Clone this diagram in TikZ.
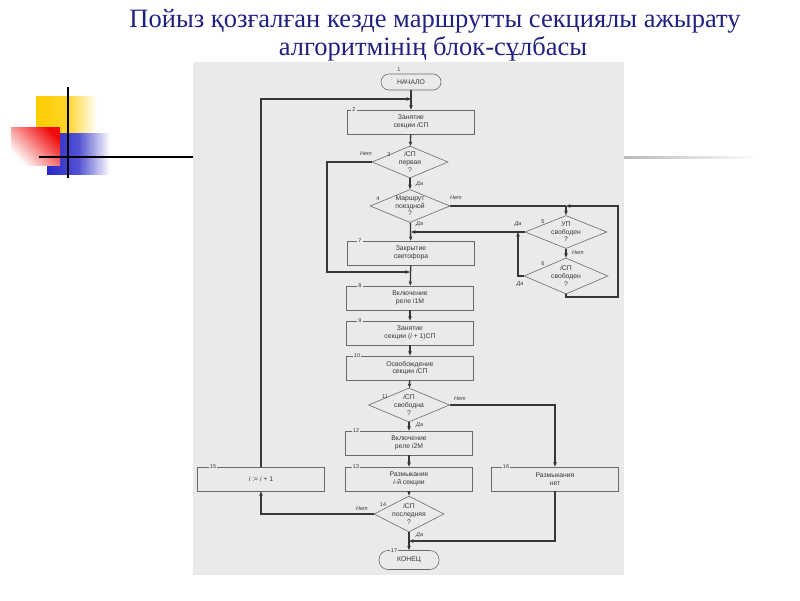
\documentclass[tikz,border=0pt]{standalone}
\usepackage{fontspec}
\setmainfont{Liberation Serif}
\newfontfamily\fcfont{Liberation Sans}
\usetikzlibrary{shapes.geometric,arrows.meta}
\definecolor{navy}{RGB}{32,32,128}
\definecolor{scanbg}{RGB}{234,234,234}
\definecolor{ink}{RGB}{55,55,55}
\definecolor{boxln}{RGB}{105,105,105}
\definecolor{deyel}{RGB}{255,204,0}
\definecolor{dered}{RGB}{240,10,10}
\definecolor{deblue}{RGB}{40,40,200}
\begin{document}
\begin{tikzpicture}[x=1pt,y=-1pt,
  txt/.style={font=\fcfont\fontsize{6.8}{7.6}\selectfont, text=ink, align=center},
  proc/.style={txt, draw=boxln, line width=0.6pt, minimum width=127pt, minimum height=24pt, inner sep=0pt},
  term/.style={txt, draw=boxln, line width=0.6pt, rounded corners=8pt, minimum width=60pt, minimum height=16pt, inner sep=0pt},
  dia/.style={draw=boxln, line width=0.6pt, diamond, inner sep=0pt},
  dtext/.style={txt, inner sep=0pt},
  num/.style={font=\fcfont\fontsize{5.5}{6}\selectfont, text=ink, fill=scanbg, inner sep=1pt},
  lab/.style={font=\fcfont\itshape\fontsize{5.5}{6}\selectfont, text=ink, inner sep=0pt},
  flow/.style={draw=ink, line width=1.3pt},
  arr/.style={flow, -{Stealth[length=4.5pt,width=3.6pt]}},
  ttl/.style={font=\fontsize{26.5}{30}\selectfont, text=navy, anchor=base, inner sep=0pt}
]
\useasboundingbox (0,0) rectangle (800,600);
% decoration
\shade[left color=deyel, right color=white, middle color=deyel!85] (36,96) rectangle (97,133);
\shade[left color=deblue, right color=white, middle color=deblue!80] (47,133) rectangle (110,174);
\shade[top color=dered, bottom color=white, shading angle=-45] (11,127) rectangle (60,165);
\draw[black, line width=1.8pt] (68,87) -- (68,178);
\draw[black, line width=1.8pt] (39,157) -- (193,157);
\shade[left color=gray!55, right color=white] (624,156) rectangle (760,158.5);
% title
\node[ttl] (title1) at (435,27) {Пойыз қозғалған кезде маршрутты секциялы ажырату};
\node[ttl] (title2) at (433,55) {алгоритмінің блок-сұлбасы};
% scan
\fill[scanbg] (193,62) rectangle (624,575);
% nodes
\node[term] (start) at (411,82) {НАЧАЛО};
\node[proc] (b2) at (411,122) {Занятие\\секции \textit{i}СП};
\node[dia, minimum width=76pt, minimum height=32pt] (d3) at (410,162) {};
\node[dtext] (t3) at (d3) {\textit{i}СП\\первая\\?};
\node[dia, minimum width=80pt, minimum height=33pt] (d4) at (410,206) {};
\node[dtext] (t4) at (d4) {Маршрут\\поездной\\?};
\node[proc] (b7) at (411,253) {Закрытие\\светофора};
\node[dia, minimum width=82pt, minimum height=33pt] (d5) at (566,232) {};
\node[dtext] (t5) at (d5) {УП\\свободен\\?};
\node[dia, minimum width=84pt, minimum height=36pt] (d6) at (566,276) {};
\node[dtext] (t6) at (d6) {\textit{i}СП\\свободен\\?};
\node[proc] (b8) at (410,298) {Включение\\реле \textit{i}1M};
\node[proc] (b9) at (410,333) {Занятие\\секции (\textit{i} + 1)СП};
\node[proc] (b10) at (410,368) {Освобождение\\секции \textit{i}СП};
\node[dia, minimum width=81pt, minimum height=34pt] (d11) at (409,405) {};
\node[dtext] (t11) at (d11) {\textit{i}СП\\свободна\\?};
\node[proc] (b12) at (409,443) {Включение\\реле \textit{i}2M};
\node[proc] (b13) at (409,479) {Размыкание\\\textit{i}-й секции};
\node[proc] (b15) at (261,479) {\textit{i} := \textit{i} + 1};
\node[proc] (b16) at (555,479) {Размыкания\\нет};
\node[dia, minimum width=70pt, minimum height=36pt] (d14) at (409,514) {};
\node[dtext] (t14) at (d14) {\textit{i}СП\\последняя\\?};
\node[term, minimum height=19pt, rounded corners=9pt] (end) at (409,560) {КОНЕЦ};
% numbers
\node[num, fill=none] (n1) at (399,70) {1};
\node[num] (n2) at (354,110) {2};
\node[num, fill=none] (n3) at (389,155) {3};
\node[num, fill=none] (n4) at (378,199) {4};
\node[num, fill=none] (n5) at (543,222) {5};
\node[num, fill=none] (n6) at (543,264) {6};
\node[num] (n7) at (360,241) {7};
\node[num] (n8) at (360,286) {8};
\node[num] (n9) at (360,321) {9};
\node[num] (n10) at (357,356) {10};
\node[num, fill=none] (n11) at (385,397) {11};
\node[num] (n12) at (356,431) {12};
\node[num] (n13) at (356,467) {13};
\node[num, fill=none] (n14) at (383,505) {14};
\node[num] (n15) at (213,467) {15};
\node[num] (n16) at (506,467) {16};
\node[num] (n17) at (394,550.5) {17};
% coordinates
\coordinate (j1) at (411,99);
\coordinate (c3) at (327,272);
\coordinate (j2) at (410,272);
\coordinate (j4) at (566,206);
\coordinate (j5) at (411,232);
\coordinate (c6a) at (566,297);
\coordinate (c6b) at (618,297);
\coordinate (c6c) at (618,206);
\coordinate (c6d) at (518,276);
\coordinate (j6) at (518,232);
\coordinate (j16) at (409,541);
% connectors
\draw[arr] (start) -- (b2);
\draw[arr] (b15.north) |- (j1);
\draw[arr] (b2) -- (d3);
\draw[arr] (d3) -- (d4);
\draw[arr] (d3.west) -| (c3) -- (j2);
\draw[arr] (d4) -- (b7);
\draw[flow] (d4.east) -- (j4);
\draw[arr] (j4) -- (d5.north);
\draw[arr] (d5.west) -- (j5);
\draw[arr] (d5) -- (d6);
\draw[arr] (d6.west) -- (c6d) -- (j6);
\draw[arr] (d6.south) -- (c6a) -- (c6b) -- (c6c) -- (j4);
\draw[arr] (b7) -- (b8);
\draw[arr] (b8) -- (b9);
\draw[arr] (b9) -- (b10);
\draw[arr] (b10) -- (d11);
\draw[arr] (d11) -- (b12);
\draw[arr] (d11.east) -| (b16.north);
\draw[arr] (b12) -- (b13);
\draw[arr] (b13) -- (d14);
\draw[arr] (d14.west) -| (b15.south);
\draw[arr] (d14) -- (end);
\draw[arr] (b16.south) |- (j16);
% labels
\node[lab] (l3n) at (366,154) {Нет};
\node[lab, anchor=west] (l3y) at (416,184) {Да};
\node[lab] (l4n) at (456,198) {Нет};
\node[lab, anchor=west] (l4y) at (416,224) {Да};
\node[lab] (l5y) at (518,224) {Да};
\node[lab, anchor=west] (l5n) at (572,253) {Нет};
\node[lab] (l6y) at (520,284) {Да};
\node[lab] (l11n) at (460,399) {Нет};
\node[lab, anchor=west] (l11y) at (416,425) {Да};
\node[lab] (l14n) at (362,509) {Нет};
\node[lab, anchor=west] (l14y) at (416,535) {Да};
\end{tikzpicture}
\end{document}
